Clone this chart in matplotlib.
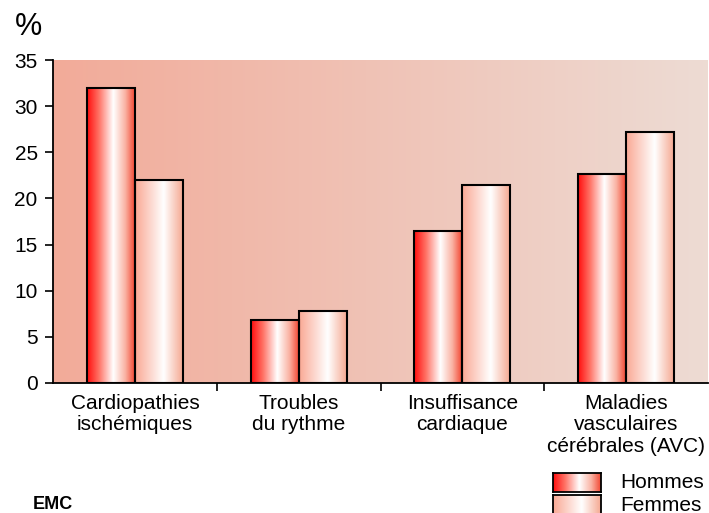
import numpy as np
import matplotlib.pyplot as plt
import matplotlib.colors as mcolors

plt.rcParams['font.family'] = ['Liberation Sans', 'DejaVu Sans']

# Data
categories = ["Cardiopathies\nischémiques", "Troubles\ndu rythme",
              "Insuffisance\ncardiaque", "Maladies\nvasculaires\ncérébrales (AVC)"]
hommes = [32.0, 6.8, 16.5, 22.6]
femmes = [22.0, 7.8, 21.5, 27.2]
yticks = [0, 5, 10, 15, 20, 25, 30, 35]

# Gradients
cmap_h = mcolors.LinearSegmentedColormap.from_list("h", [
    (0.0, (1.0, 0.05, 0.05)), (0.25, (1.0, 0.45, 0.40)), (0.55, (1.0, 1.0, 1.0)),
    (0.8, (0.98, 0.70, 0.64)), (1.0, (0.95, 0.28, 0.20))])
cmap_f = mcolors.LinearSegmentedColormap.from_list("f", [
    (0.0, (0.98, 0.66, 0.58)), (0.6, (1.0, 1.0, 1.0)), (1.0, (0.96, 0.66, 0.57))])
cmap_bg = mcolors.LinearSegmentedColormap.from_list("bg", [
    (0.0, (0.95, 0.67, 0.60)), (1.0, (0.93, 0.86, 0.83))])
grad = np.linspace(0, 1, 256).reshape(1, -1)

fig = plt.figure(figsize=(7.09, 5.13), dpi=100)
ax = fig.add_axes([53 / 709, 130 / 513, 655 / 709, 323 / 513])
ax.set_xlim(-0.5, 3.5)
ax.set_ylim(0, 35)

# background gradient
ax.imshow(grad, cmap=cmap_bg, aspect='auto', extent=(-0.5, 3.5, 0, 35), zorder=0)

x = np.arange(len(categories))
w = 0.293
for vals, off, cm_ in [(hommes, -w / 2, cmap_h), (femmes, w / 2, cmap_f)]:
    bars = ax.bar(x + off, vals, width=w, facecolor='none', edgecolor='black',
                  linewidth=1.5, zorder=3)
    for b in bars:
        im = ax.imshow(grad, cmap=cm_, aspect='auto', zorder=2,
                       extent=(b.get_x(), b.get_x() + b.get_width(), 0, b.get_height()))
        im.set_clip_path(b)
ax.set_xlim(-0.5, 3.5)
ax.set_ylim(0, 35)

for s in ['top', 'right']:
    ax.spines[s].set_visible(False)
ax.spines['left'].set_linewidth(1.3)
ax.spines['bottom'].set_linewidth(1.3)
ax.spines['bottom'].set_zorder(4)

ax.set_yticks(yticks)
ax.tick_params(axis='y', length=6, width=1.2, pad=5, labelsize=15)
ax.set_xticks([0.5, 1.5, 2.5])
ax.set_xticklabels([])
ax.tick_params(axis='x', length=6, width=1.2)
for xi, lab in zip(x, categories):
    ax.text(xi, -1.2, lab, ha='center', va='top', fontsize=15, linespacing=1.15)

fig.text(15 / 709, 1 - 35 / 513, "%", fontsize=22, ha='left', va='baseline')

# legend
for i, (cm_, lab) in enumerate([(cmap_h, "Hommes"), (cmap_f, "Femmes")]):
    y0 = 1 - (492 + i * 22) / 513
    lax = fig.add_axes([553 / 709, y0, 48 / 709, 19 / 513])
    lax.imshow(grad, cmap=cm_, aspect='auto')
    lax.set_xticks([])
    lax.set_yticks([])
    for s in lax.spines.values():
        s.set_linewidth(1.3)
    fig.text(620 / 709, y0 + 9 / 513, lab, fontsize=15, ha='left', va='center')

fig.text(33 / 709, 1 - 509 / 513, "EMC", fontsize=13, fontweight='bold',
         fontstretch='condensed', ha='left', va='baseline',
         family=['Liberation Sans Narrow', 'Liberation Sans'])

fig.savefig("out.png", dpi=100)
